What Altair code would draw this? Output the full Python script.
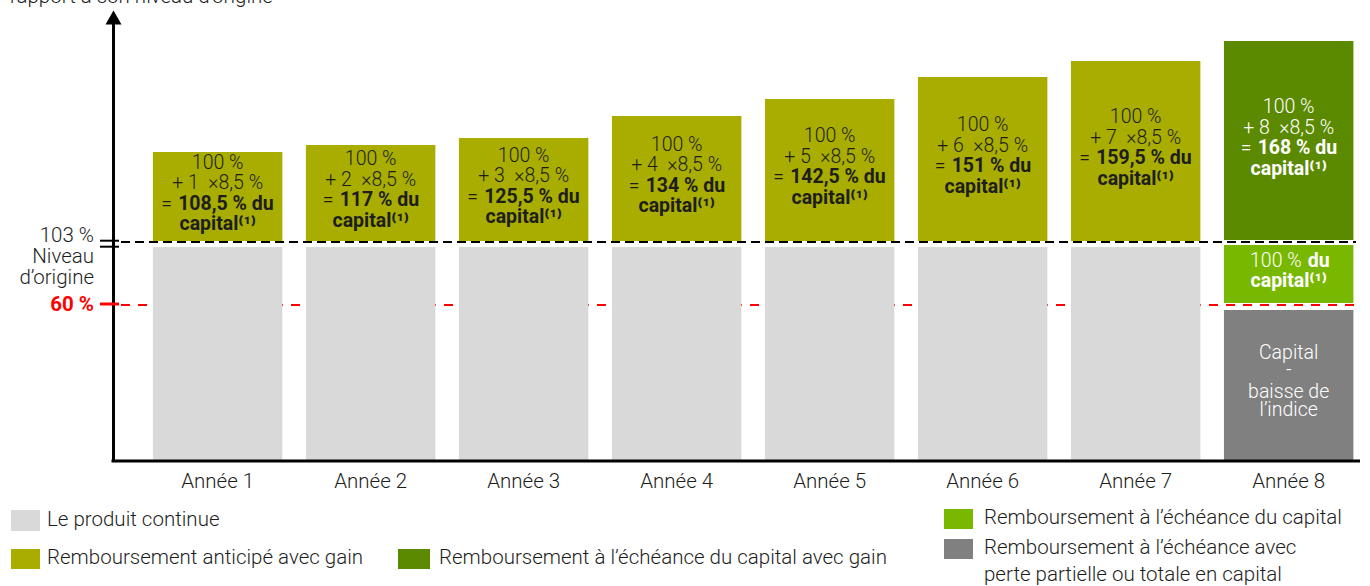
import altair as alt
import pandas as pd

# ---------------- data (chart units: 1 unit = one step of the schematic y scale) ----------
years = ["Année 1", "Année 2", "Année 3", "Année 4", "Année 5", "Année 6", "Année 7", "Année 8"]
coupon_counts = [1, 2, 3, 4, 5, 6, 7, 8]
gain_totals = ["108,5", "117", "125,5", "134", "142,5", "151", "159,5", "168"]
gain_tops = [309, 316, 323, 345, 362, 384, 400, 420]
gain_bottom = 220          # 103 % level
continue_top = 214         # top of "le produit continue" bars
capital_bottom, capital_top = 158, 216
loss_top = 151
level_103 = 220
level_60 = 156

legend_items = [
    "Le produit continue",
    "Remboursement anticipé avec gain",
    "Remboursement à l’échéance du capital avec gain",
    "Remboursement à l’échéance du capital",
    "Remboursement à l’échéance avec",
]
legend_extra = "perte partielle ou totale en capital"

# ---------------- style ----------------
FONT = "Roboto"
FS = 20.5          # axis / legend text
FB = 19.5          # text inside the bars
C_GRAY = "#d9d9d9"
C_OLIVE = "#a8ad00"
C_DKGREEN = "#5b8a00"
C_LTGREEN = "#78b800"
C_DKGRAY = "#808080"
C_RED = "#ff0000"
C_TEXT = "#1e1e1e"
W, H = 1247, 450
PL, PT = 113, 11
NB = "\u00a0"

xs = alt.Scale(domain=years, paddingInner=0.154, paddingOuter=0.152, align=0.858)
ys = alt.Scale(domain=[0, 450], nice=False, zero=False)
XB = alt.X("year:N", scale=xs, axis=None, sort=years)


def Yv(field):
    return alt.Y(field, type="quantitative", scale=ys, axis=None)


def PX(field):
    return alt.X(field, type="quantitative", scale=None, axis=None)


def PY(field):
    return alt.Y(field, type="quantitative", scale=None, axis=None)


# ---------------- bars ----------------
rows = []
for i, y in enumerate(years):
    if i < 7:
        rows.append(dict(year=y, y0=0, y1=continue_top, fill=C_GRAY))
        rows.append(dict(year=y, y0=gain_bottom, y1=gain_tops[i], fill=C_OLIVE))
    else:
        rows.append(dict(year=y, y0=0, y1=loss_top, fill=C_DKGRAY))
        rows.append(dict(year=y, y0=capital_bottom, y1=capital_top, fill=C_LTGREEN))
        rows.append(dict(year=y, y0=gain_bottom + 1, y1=gain_tops[i], fill=C_DKGREEN))
bars_df = pd.DataFrame(rows)

bars = alt.Chart(bars_df).mark_bar().encode(
    x=XB, y=Yv("y0"), y2="y1", color=alt.Color("fill:N", scale=None)
)

# ---------------- reference lines ----------------
red_line = alt.Chart(pd.DataFrame({"v": [level_60]})).mark_rule(
    color=C_RED, strokeWidth=2, strokeDash=[9, 8]
).encode(y=Yv("v"), x=alt.value(8), x2=alt.value(1243))
black_line = alt.Chart(pd.DataFrame({"v": [level_103 - 1]})).mark_rule(
    color="black", strokeWidth=2, strokeDash=[9, 5]
).encode(y=Yv("v"), x=alt.value(8), x2=alt.value(1243))

# axes drawn as rules
y_shaft = alt.Chart(pd.DataFrame({"v": [0]})).mark_rule(color="black", strokeWidth=3).encode(
    x=alt.value(0.5), y=alt.value(H), y2=alt.value(12)
)
arrow = alt.Chart(pd.DataFrame({"v": [0]})).mark_point(
    shape="triangle-up", filled=True, color="black", opacity=1, size=256
).encode(x=alt.value(0.5), y=alt.value(6.5))
x_line = alt.Chart(pd.DataFrame({"v": [0]})).mark_rule(color="black", strokeWidth=3).encode(
    y=Yv("v"), x=alt.value(-1.5), x2=alt.value(W)
)
ticks_df = pd.DataFrame({"v": [level_103 + 0.3, level_103 - 5.7]})
ticks = alt.Chart(ticks_df).mark_rule(color="black", strokeWidth=2).encode(
    y=Yv("v"), x=alt.value(-13), x2=alt.value(6)
)
tick60 = alt.Chart(pd.DataFrame({"v": [level_60 + 1]})).mark_rule(color=C_RED, strokeWidth=3).encode(
    y=Yv("v"), x=alt.value(-13), x2=alt.value(6)
)

ylab_df = pd.DataFrame({"v": [level_103 + 5, level_103 - 16, level_103 - 37],
                        "t": ["103 %", "Niveau", "d’origine"]})
ylabs = alt.Chart(ylab_df).mark_text(
    align="right", baseline="middle", font=FONT, fontSize=FS, fontWeight=300, color=C_TEXT
).encode(y=Yv("v"), x=alt.value(-19), text="t:N")
y60 = alt.Chart(pd.DataFrame({"v": [level_60], "t": ["60 %"]})).mark_text(
    align="right", baseline="middle", font=FONT, fontSize=FS, fontWeight="bold", color=C_RED
).encode(y=Yv("v"), x=alt.value(-19), text="t:N")

title = alt.Chart(pd.DataFrame({"t": ["rapport à son niveau d’origine"]})).mark_text(
    align="left", baseline="alphabetic", font=FONT, fontSize=FS, fontWeight=300, color=C_TEXT
).encode(x=alt.value(10 - PL), y=alt.value(2.5 - PT), text="t:N")

# x labels
xl = alt.Chart(pd.DataFrame({"year": years, "v": [-21] * 8})).mark_text(
    baseline="middle", font=FONT, fontSize=FS, fontWeight=300, color=C_TEXT
).encode(x=XB, y=Yv("v"), text="year:N")

# ---------------- texts inside bars ----------------
light_rows, bold_rows, eq_rows = [], [], []
for i, y in enumerate(years):
    c = (gain_bottom + gain_tops[i]) / 2 + 3
    col = C_TEXT if i < 7 else "white"
    light_rows.append(dict(year=y, v=c + 30.75, t="100 %", col=col))
    light_rows.append(dict(year=y, v=c + 10.25, t=f"+ {coupon_counts[i]}{NB}{NB}×8,5 %", col=col))
    cls = "half" if "," in gain_totals[i] else "int"
    eq_rows.append(dict(year=y, v=c - 10.25, t="=", col=col, cls=cls))
    bold_rows.append(dict(year=y, v=c - 10.25, t=f"{gain_totals[i]} % du", col=col, cls=cls))
    bold_rows.append(dict(year=y, v=c - 30.75, t="capital⁽¹⁾", col=col, cls="cap"))

# year 8 lower boxes
cg = (capital_bottom + capital_top) / 2 + 3
cl = loss_top / 2 + 4
light_rows += [dict(year=years[7], v=cl + 28.5, t="Capital", col="white"),
               dict(year=years[7], v=cl + 11.5, t="-", col="white"),
               dict(year=years[7], v=cl - 10.5, t="baisse de", col="white"),
               dict(year=years[7], v=cl - 28.5, t="l’indice", col="white")]
bold_rows.append(dict(year=years[7], v=cg - 10, t="capital⁽¹⁾", col="white", cls="cap"))
ltd = pd.DataFrame(light_rows)
bd = pd.DataFrame(bold_rows)
ed = pd.DataFrame(eq_rows)

light_txt = alt.Chart(ltd).mark_text(
    baseline="middle", font=FONT, fontSize=FB, fontWeight=300
).encode(x=XB, y=Yv("v"), text="t:N", color=alt.Color("col:N", scale=None))

# widths (approx) of the bold part for the two forms
W_HALF, W_INT, W_EQ, GAP = 96, 79, 11, 6
layers_txt = [light_txt]
bold_base = alt.Chart(bd)
layers_txt.append(bold_base.transform_filter("datum.cls == 'cap'").mark_text(
    baseline="middle", font=FONT, fontSize=FB, fontWeight="bold"
).encode(x=XB, y=Yv("v"), text="t:N", color=alt.Color("col:N", scale=None)))
for cls, wb in (("half", W_HALF), ("int", W_INT)):
    total = W_EQ + GAP + wb
    start = -total / 2
    layers_txt.append(bold_base.transform_filter(f"datum.cls == '{cls}'").mark_text(
        align="left", baseline="middle", font=FONT, fontSize=FB, fontWeight="bold", dx=start + W_EQ + GAP
    ).encode(x=XB, y=Yv("v"), text="t:N", color=alt.Color("col:N", scale=None)))
    layers_txt.append(alt.Chart(ed).transform_filter(f"datum.cls == '{cls}'").mark_text(
        align="left", baseline="middle", font=FONT, fontSize=FB, fontWeight=300, dx=start
    ).encode(x=XB, y=Yv("v"), text="t:N", color=alt.Color("col:N", scale=None)))

# "100 % du" in the light-green box
cap_a = alt.Chart(pd.DataFrame({"year": [years[7]], "v": [cg + 10], "t": ["100 %"]})).mark_text(
    align="right", baseline="middle", font=FONT, fontSize=FB, fontWeight=300, color="white", dx=13
).encode(x=XB, y=Yv("v"), text="t:N")
cap_b = alt.Chart(pd.DataFrame({"year": [years[7]], "v": [cg + 10], "t": ["du"]})).mark_text(
    align="left", baseline="middle", font=FONT, fontSize=FB, fontWeight="bold", color="white", dx=19
).encode(x=XB, y=Yv("v"), text="t:N")

# ---------------- legend (pixel layout) ----------------
leg_colors = [C_GRAY, C_OLIVE, C_DKGREEN, C_LTGREEN, C_DKGRAY]
leg_box = [(11, 510, 40, 531), (11, 549, 40, 569), (398, 549, 430, 569),
           (944, 509, 973, 529), (944, 539, 973, 559)]
leg_txt_pos = [(47, 520), (47, 558), (439, 558), (984, 518), (984, 548)]
lb = pd.DataFrame({
    "x0": [b[0] - PL for b in leg_box], "x1": [b[2] - PL for b in leg_box],
    "y0": [b[1] - PT for b in leg_box], "y1": [b[3] - PT for b in leg_box],
    "fill": leg_colors,
})
lt = pd.DataFrame({
    "x": [p[0] - PL for p in leg_txt_pos] + [984 - PL],
    "y": [p[1] - PT for p in leg_txt_pos] + [575 - PT],
    "t": legend_items + [legend_extra],
})
leg_rect = alt.Chart(lb).mark_rect().encode(
    x=PX("x0"), x2="x1", y=PY("y0"), y2="y1", color=alt.Color("fill:N", scale=None)
)
leg_text = alt.Chart(lt).mark_text(
    align="left", baseline="middle", font=FONT, fontSize=FS, fontWeight=300, color=C_TEXT
).encode(x=PX("x"), y=PY("y"), text="t:N")

chart = alt.layer(
    red_line, bars, black_line, y_shaft, arrow, x_line, ticks, tick60,
    ylabs, y60, title, xl, *layers_txt, cap_a, cap_b, leg_rect, leg_text
).properties(
    width=W, height=H,
    autosize=alt.AutoSizeParams(type="none"),
    padding={"left": PL, "top": PT, "right": 10, "bottom": 125},
    background="white",
).configure_view(stroke=None)

chart.save("out.html", embed_options={"renderer": "svg", "actions": False})
